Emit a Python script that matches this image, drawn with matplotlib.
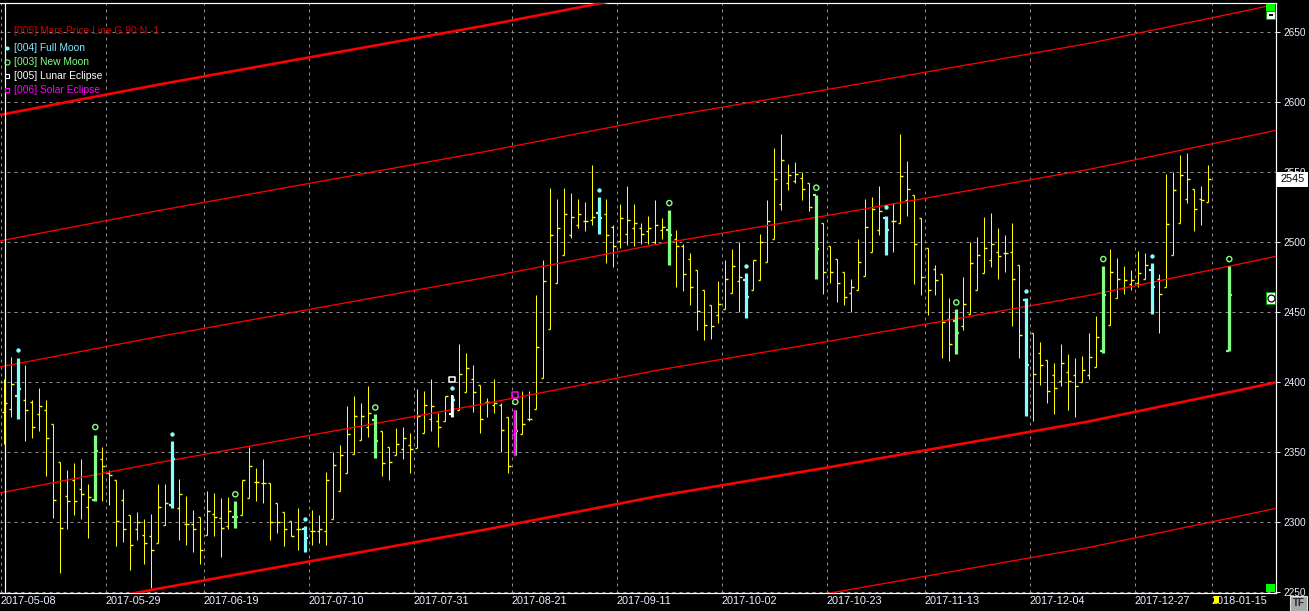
import numpy as np
import matplotlib
matplotlib.use("Agg")
import matplotlib.pyplot as plt
from matplotlib.patches import Rectangle
from matplotlib.lines import Line2D

plt.rcParams['font.family'] = ['Liberation Sans', 'DejaVu Sans']

W, H = 1309, 611

# x axis: trading-day index of each date label
tick_labels = ['2017-05-08', '2017-05-29', '2017-06-19', '2017-07-10', '2017-07-31',
               '2017-08-21', '2017-09-11', '2017-10-02', '2017-10-23', '2017-11-13',
               '2017-12-04', '2017-12-27', '2018-01-15']
tick_index = [0, 15, 29, 44, 59, 73, 88, 103, 118, 132, 147, 162, 173]
y_ticks = [2250, 2300, 2350, 2400, 2450, 2500, 2550, 2600, 2650]

# daily bars 0..172, plus the projected new moon bar at 175
bar_index = list(range(173)) + [175]
opens = [2379, 2381, 2390, 2387, 2386, 2377, 2380, 2370, 2343, 2319,
         2330, 2324, 2311, 2316, 2345, 2335, 2330, 2316, 2305, 2295,
         2291, 2290, 2285, 2298, 2312, 2310, 2299, 2299, 2304, 2291,
         2306, 2303, 2297, 2304, 2305, 2317, 2329, 2328, 2328, 2314,
         2307, 2301, 2295, 2295, 2294, 2294, 2294, 2302, 2322, 2335,
         2349, 2359, 2368, 2373, 2365, 2354, 2348, 2352, 2355, 2353,
         2364, 2374, 2372, 2372, 2377, 2380, 2393, 2402, 2398, 2386,
         2384, 2384, 2375, 2362, 2363, 2374, 2381, 2403, 2438, 2471,
         2491, 2505, 2512, 2515, 2516, 2521, 2520, 2511, 2501, 2506,
         2510, 2510, 2508, 2500, 2509, 2509, 2502, 2497, 2488, 2480,
         2466, 2455, 2448, 2452, 2464, 2472, 2473, 2466, 2473, 2486,
         2502, 2527, 2542, 2544, 2546, 2542, 2534, 2514, 2497, 2488,
         2479, 2464, 2466, 2476, 2493, 2509, 2517, 2515, 2514, 2530,
         2534, 2517, 2496, 2481, 2477, 2445, 2444, 2440, 2449, 2466,
         2478, 2487, 2493, 2492, 2493, 2484, 2459, 2435, 2421, 2416,
         2405, 2401, 2407, 2405, 2400, 2405, 2411, 2422, 2441, 2460,
         2467, 2470, 2471, 2474, 2480, 2474, 2468, 2491, 2514, 2531,
         2538, 2531, 2529, 2422]
highs = [2402, 2418, 2417, 2412, 2387, 2396, 2387, 2370, 2343, 2337,
         2342, 2345, 2327, 2362, 2354, 2337, 2330, 2324, 2305, 2307,
         2302, 2306, 2327, 2327, 2358, 2331, 2319, 2309, 2304, 2322,
         2321, 2317, 2318, 2315, 2330, 2354, 2339, 2345, 2328, 2314,
         2307, 2301, 2310, 2297, 2309, 2305, 2336, 2350, 2355, 2383,
         2390, 2385, 2397, 2377, 2365, 2354, 2367, 2368, 2364, 2395,
         2394, 2402, 2378, 2390, 2391, 2427, 2421, 2412, 2398, 2389,
         2402, 2385, 2375, 2380, 2394, 2394, 2462, 2487, 2539, 2531,
         2539, 2535, 2531, 2529, 2555, 2532, 2531, 2512, 2527, 2540,
         2527, 2514, 2519, 2530, 2517, 2523, 2509, 2499, 2492, 2480,
         2466, 2455, 2472, 2487, 2495, 2500, 2478, 2487, 2506, 2530,
         2567, 2577, 2556, 2557, 2550, 2542, 2534, 2514, 2497, 2488,
         2479, 2474, 2502, 2531, 2532, 2540, 2519, 2528, 2577, 2558,
         2534, 2517, 2496, 2484, 2477, 2460, 2452, 2475, 2500, 2504,
         2518, 2521, 2510, 2505, 2514, 2484, 2460, 2435, 2429, 2416,
         2414, 2427, 2420, 2417, 2419, 2435, 2447, 2483, 2495, 2489,
         2483, 2480, 2494, 2492, 2485, 2477, 2549, 2550, 2562, 2564,
         2538, 2540, 2555, 2483]
lows = [2356, 2375, 2374, 2358, 2360, 2365, 2333, 2303, 2264, 2295,
        2305, 2302, 2289, 2315, 2315, 2312, 2283, 2286, 2266, 2287,
        2270, 2253, 2285, 2298, 2310, 2287, 2284, 2279, 2270, 2291,
        2290, 2275, 2295, 2296, 2305, 2317, 2315, 2314, 2287, 2292,
        2283, 2290, 2280, 2279, 2284, 2285, 2284, 2302, 2322, 2335,
        2349, 2359, 2361, 2346, 2333, 2330, 2348, 2345, 2335, 2353,
        2364, 2365, 2354, 2372, 2375, 2380, 2393, 2379, 2364, 2375,
        2378, 2350, 2335, 2348, 2363, 2372, 2381, 2403, 2438, 2471,
        2491, 2503, 2510, 2508, 2512, 2506, 2485, 2482, 2496, 2498,
        2497, 2499, 2499, 2499, 2502, 2484, 2468, 2465, 2455, 2437,
        2430, 2431, 2442, 2452, 2464, 2450, 2446, 2466, 2473, 2486,
        2502, 2523, 2537, 2542, 2530, 2522, 2474, 2463, 2471, 2457,
        2455, 2450, 2466, 2476, 2493, 2505, 2491, 2493, 2514, 2519,
        2470, 2462, 2448, 2462, 2417, 2415, 2420, 2437, 2449, 2466,
        2478, 2482, 2474, 2479, 2440, 2417, 2376, 2372, 2398, 2385,
        2377, 2397, 2380, 2375, 2400, 2402, 2411, 2421, 2441, 2460,
        2463, 2466, 2468, 2474, 2449, 2435, 2468, 2491, 2514, 2528,
        2508, 2512, 2529, 2422]
closes = [2385, 2399, 2395, 2380, 2368, 2383, 2360, 2316, 2296, 2315,
          2315, 2320, 2318, 2351, 2340, 2334, 2301, 2295, 2284, 2300,
          2285, 2280, 2311, 2314, 2345, 2320, 2299, 2295, 2280, 2308,
          2304, 2296, 2308, 2304, 2330, 2340, 2329, 2328, 2300, 2300,
          2295, 2290, 2295, 2289, 2294, 2295, 2330, 2341, 2348, 2363,
          2376, 2376, 2378, 2358, 2342, 2343, 2356, 2360, 2352, 2376,
          2384, 2383, 2368, 2390, 2387, 2406, 2410, 2393, 2374, 2386,
          2385, 2366, 2340, 2365, 2370, 2374, 2425, 2472, 2505, 2510,
          2520, 2518, 2520, 2515, 2518, 2517, 2505, 2497, 2517, 2516,
          2514, 2506, 2510, 2512, 2511, 2505, 2497, 2477, 2468, 2451,
          2441, 2440, 2456, 2474, 2483, 2475, 2461, 2487, 2500, 2515,
          2545, 2559, 2548, 2549, 2538, 2525, 2495, 2479, 2479, 2471,
          2461, 2468, 2486, 2511, 2524, 2522, 2509, 2515, 2547, 2538,
          2499, 2475, 2466, 2473, 2443, 2427, 2435, 2456, 2485, 2491,
          2496, 2499, 2490, 2492, 2474, 2434, 2412, 2406, 2412, 2394,
          2396, 2414, 2401, 2397, 2409, 2418, 2432, 2462, 2479, 2474,
          2473, 2473, 2478, 2484, 2468, 2463, 2513, 2537, 2548, 2545,
          2524, 2530, 2545, 2462]

# moon events (bar index, marker level)
full_moon_idx = [2, 24, 43, 85, 106, 126, 146, 164]
full_moon_dot = [2423, 2363, 2302, 2537, 2483, 2525, 2465, 2490]
new_moon_idx = [13, 33, 53, 73, 95, 116, 136, 157, 175]
new_moon_ring = [2368, 2320, 2382, 2386, 2528, 2539, 2457, 2488, 2488]
lunar_idx = [64]
lunar_dot = [2396]
lunar_square = [2402]
solar_idx = [73]
solar_square = [2391]

# Mars price line (harmonic 0), plus 90-point harmonics
mars_x = [-0.6, 22, 46.5, 68.4, 93.7, 118, 155, 176.5, 181.7]
mars_base = [2231, 2252.6, 2274.7, 2294.5, 2319, 2339.5, 2372.1, 2394.5, 2400]
harmonics = [-90, 0, 90, 180, 270, 360]

last_price = 2545

YELLOW = '#ffff00'
CYAN = '#80ffff'
GREEN = '#80ff80'
MAGENTA = '#ff00ff'
RED = '#ff0000'
PX = 0.72  # one pixel in points at dpi 100

bars = {i: (o, h, l, c) for i, o, h, l, c in zip(bar_index, opens, highs, lows, closes)}


def draw_bars(ax, idxs, color, lw, tlw, tlen, z, shift=0.0):
    x = np.array(idxs, dtype=float) + shift
    o = [bars[i][0] for i in idxs]
    h = [bars[i][1] for i in idxs]
    l = [bars[i][2] for i in idxs]
    c = [bars[i][3] for i in idxs]
    ax.vlines(x, l, h, color=color, lw=lw, zorder=z, capstyle='butt')
    ax.hlines(o, x - tlen, x, color=color, lw=tlw, zorder=z)
    ax.hlines(c, x, x + tlen, color=color, lw=tlw, zorder=z)


fig = plt.figure(figsize=(W / 100, H / 100), dpi=100, facecolor='black')
ax = fig.add_axes([0, 18 / H, 1276 / W, 590 / H])
ax.set_facecolor('black')

ax.set_xlim(-4.3 / 7, (1276 - 4.3) / 7)
ax.set_ylim(2249.5, 2670.9)

# grid
for t in tick_index:
    ax.axvline(t - 0.5, color='#8c8c8c', lw=PX, ls=(0, (3, 4)), zorder=1)
for v in y_ticks:
    ax.axhline(v, color='#8c8c8c', lw=PX, ls=(0, (3, 4)), zorder=1)

# plain bars
special = set(full_moon_idx) | set(new_moon_idx) | set(lunar_idx) | set(solar_idx)
plain = [i for i in bar_index if i not in special]
draw_bars(ax, plain, YELLOW, 1.0 * PX, 1.4 * PX, 0.38, 3)

# Mars lines
for hm in harmonics:
    lw = 2.6 * PX if hm % 360 == 0 else 1.3 * PX
    ax.plot(mars_x, np.array(mars_base) + hm, color=RED, lw=lw, zorder=4,
            solid_capstyle='butt')

# highlighted event bars
draw_bars(ax, full_moon_idx, CYAN, 3.2 * PX, 2.2 * PX, 0.45, 5)
draw_bars(ax, [i for i in new_moon_idx if i not in solar_idx], GREEN, 3.2 * PX, 2.2 * PX, 0.45, 5)
draw_bars(ax, lunar_idx, CYAN, 3.2 * PX, 2.2 * PX, 0.45, 5)
draw_bars(ax, lunar_idx, 'white', 2.0 * PX, 2.0 * PX, 0.35, 6, shift=-0.05)
draw_bars(ax, solar_idx, GREEN, 3.2 * PX, 2.2 * PX, 0.45, 5)
draw_bars(ax, solar_idx, MAGENTA, 2.4 * PX, 2.2 * PX, 0.4, 6, shift=-0.1)

# event markers
ax.scatter(full_moon_idx + lunar_idx, full_moon_dot + lunar_dot, s=10, marker='o',
           color=CYAN, edgecolor=CYAN, lw=0, zorder=7)
ax.scatter(new_moon_idx, new_moon_ring, s=14, marker='o', facecolor='none',
           edgecolor=GREEN, lw=1.0, zorder=7)
ax.scatter(lunar_idx, lunar_square, s=18, marker='s', facecolor='none',
           edgecolor='white', lw=1.1, zorder=7)
ax.scatter(solar_idx, solar_square, s=18, marker='s', facecolor='none',
           edgecolor=MAGENTA, lw=1.1, zorder=7)

# axes frame and ticks
for side in ['top', 'right', 'bottom']:
    ax.spines[side].set_color('white')
    ax.spines[side].set_linewidth(1.2 * PX)
ax.spines['left'].set_visible(False)
ax.axvline((5.2 - 4.3) / 7, color='white', lw=1.2 * PX, zorder=8)

ax.yaxis.tick_right()
ax.set_yticks(y_ticks)
ax.set_yticklabels([str(v) for v in y_ticks])
ax.tick_params(axis='y', colors='#e8f0ff', labelsize=7.3, length=3, width=PX, pad=2.5)
ax.set_xticks([t - 0.5 for t in tick_index])
ax.set_xticklabels(tick_labels, ha='left')
ax.tick_params(axis='x', colors='#e8f0ff', labelsize=7.8, length=0, pad=2.5)


def fx(px):
    return px / W


def fy(py):
    return 1 - py / H


def fig_marker(px, py, **kw):
    fig.add_artist(Line2D([fx(px)], [fy(py)], transform=fig.transFigure, ls='none', **kw))


# legend text in the top-left corner
fig.text(fx(14), fy(31), '[005] Mars Price Line G 90 N -1', color='#d00000',
         fontsize=7.4, va='center', ha='left')
legend_rows = [('[004] Full Moon', '#80e8ff', 48), ('[003] New Moon', '#80ff80', 62),
               ('[005] Lunar Eclipse', '#ffffff', 76), ('[006] Solar Eclipse', '#ff00ff', 90)]
for text, col, yy in legend_rows:
    fig.text(fx(14), fy(yy), text, color=col, fontsize=7.4, va='center', ha='left')
fig_marker(7.3, 48, marker='o', ms=3.0, mfc=CYAN, mec=CYAN, mew=0)
fig_marker(7.3, 62, marker='o', ms=3.6, mfc='none', mec=GREEN, mew=0.8)
fig_marker(7.3, 76, marker='s', ms=3.4, mfc='none', mec='white', mew=0.8)
fig_marker(7.3, 90, marker='s', ms=3.4, mfc='none', mec=MAGENTA, mew=0.8)

# right side widgets
fig.patches.append(Rectangle((fx(1266), fy(11)), 9 / W, 7 / H, transform=fig.transFigure,
                             facecolor='#00ff00', edgecolor='none'))
fig.patches.append(Rectangle((fx(1266), fy(19)), 9 / W, 8 / H, transform=fig.transFigure,
                             facecolor='white', edgecolor='#00a000', lw=0.8))
fig.patches.append(Rectangle((fx(1268.5), fy(16)), 4 / W, 2 / H, transform=fig.transFigure,
                             facecolor='black', edgecolor='none'))
fig.patches.append(Rectangle((fx(1266), fy(592)), 9 / W, 8 / H, transform=fig.transFigure,
                             facecolor='#00ff00', edgecolor='none'))
fig.patches.append(Rectangle((fx(1266), fy(304)), 9 / W, 12.5 / H, transform=fig.transFigure,
                             facecolor='white', edgecolor='#00a000', lw=0.8))
fig_marker(1270.5, 297.8, marker='o', ms=5, mfc='white', mec='black', mew=0.9)

# last price box
fig.patches.append(Rectangle((fx(1277), fy(187)), 31 / W, 15 / H, transform=fig.transFigure,
                             facecolor='white', edgecolor='none'))
fig.text(fx(1292.5), fy(179.5), str(last_price), color='black', fontsize=7.8,
         ha='center', va='center')

# yellow marker under 2018-01-15 and TF button
fig.patches.append(Rectangle((fx(1214), fy(603)), 5 / W, 7 / H, transform=fig.transFigure,
                             facecolor='#ffff00', edgecolor='none'))
fig.patches.append(Rectangle((fx(1290), fy(611)), 17 / W, 15 / H, transform=fig.transFigure,
                             facecolor='#a8a8a8', edgecolor='#e0e0e0', lw=0.8))
fig.text(fx(1298.5), fy(603.5), 'TF', color='#202020', fontsize=7, ha='center',
         va='center', fontweight='bold')

fig.savefig('out.png', dpi=100, facecolor='black')
